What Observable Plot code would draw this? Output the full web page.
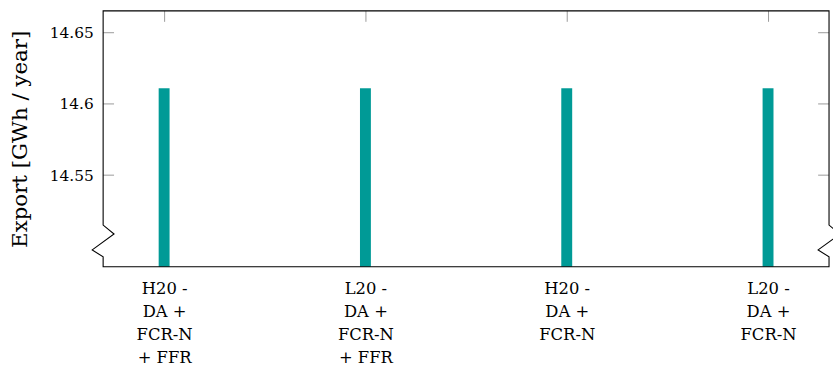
<!DOCTYPE html>
<html>
<head>
<meta charset="utf-8">
<script src="https://cdn.jsdelivr.net/npm/d3@7"></script>
<script src="https://cdn.jsdelivr.net/npm/@observablehq/plot@0.6"></script>
<style>
  html, body { margin: 0; padding: 0; background: #fff; overflow: hidden; }
  #chart { width: 833px; height: 371px; overflow: hidden; }
</style>
</head>
<body>
<div id="chart"></div>
<script>
// ---- data ----
const scenarios = [
  "H20 -\nDA +\nFCR-N\n+ FFR",
  "L20 -\nDA +\nFCR-N\n+ FFR",
  "H20 -\nDA +\nFCR-N",
  "L20 -\nDA +\nFCR-N"
];
const exportGWh = [14.611, 14.611, 14.611, 14.611];
const yTicks = [14.55, 14.6, 14.65];
const yTickLabels = ["14.55", "14.6", "14.65"];
const yDomain = [14.4857, 14.6653];
const yLabel = "Export [GWh / year]";
const barColor = "#009a96";

const rows = scenarios.map((s, i) => ({scenario: s, value: exportGWh[i]}));

const W = 840, H = 371, mL = 104, mR = 4, mT = 11, mB = 102;
const frameH = H - mT - mB;

// frame with axis-break zigzags and inward y ticks, positioned through Plot's scales
function frameMark(index, scales, values, dims) {
  const {y} = scales;
  const L = dims.marginLeft, R = dims.width - dims.marginRight;
  const T = dims.marginTop, B = dims.height - dims.marginBottom;
  const g = d3.create("svg:g");
  const tick = g.append("g").attr("stroke", "#9a9a9a").attr("stroke-width", 1);
  for (const t of yTicks) {
    const yy = y(t);
    tick.append("line").attr("x1", L).attr("x2", L + 11).attr("y1", yy).attr("y2", yy);
    tick.append("line").attr("x1", R - 11).attr("x2", R).attr("y1", yy).attr("y2", yy);
  }
  const d = `M${L},${T}V${B - 42}L${L + 11},${B - 33}L${L - 11},${B - 17}L${L},${B - 10}V${B}` +
            `H${R}V${B - 10}L${R - 11},${B - 17}L${R + 11},${B - 33}L${R},${B - 42}V${T}Z`;
  g.append("path").attr("d", d).attr("fill", "none").attr("stroke", "#000").attr("stroke-width", 1.1);
  return g.node();
}

const chart = Plot.plot({
  width: W,
  height: H,
  marginLeft: mL,
  marginRight: mR,
  marginTop: mT,
  marginBottom: mB,
  style: {fontFamily: "DejaVu Serif", fontSize: "15px", color: "#000", background: "#fff", overflow: "visible"},
  x: {domain: scenarios, paddingInner: 0.94595, paddingOuter: 0.2715, align: 0.5, label: null},
  y: {domain: yDomain, label: null},
  marks: [
    Plot.barY(rows, {x: "scenario", y: "value", fill: barColor, clip: true}),
    Plot.ruleX(scenarios, {x: (d) => d, stroke: "#9a9a9a", strokeWidth: 1, insetBottom: frameH - 11}),
    frameMark,
    Plot.axisY(yTicks, {tickSize: 0, tickPadding: 10, tickFormat: (d) => yTickLabels[yTicks.indexOf(d)], label: null, fontSize: 15.5}),
    Plot.axisX({tickSize: 0, tickPadding: 11, label: null, lineHeight: 1.394, fontSize: 16.5}),
    Plot.text([yLabel], {frameAnchor: "left", textAnchor: "middle", dx: -84, rotate: -90, fontSize: 21.5})
  ]
});
document.getElementById("chart").append(chart);
</script>
</body>
</html>
